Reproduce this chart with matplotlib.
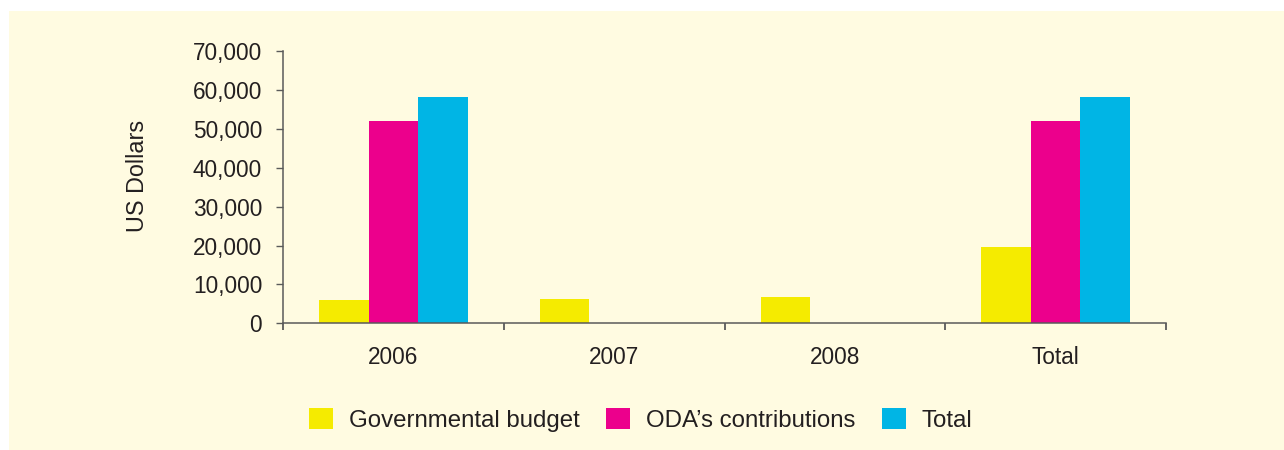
import matplotlib
matplotlib.use("Agg")
import matplotlib.pyplot as plt
from matplotlib.patches import Patch, Rectangle
from matplotlib.ticker import StrMethodFormatter, FixedLocator
import numpy as np

categories = ["2006", "2007", "2008", "Total"]
governmental_budget = [6000, 6250, 6800, 19700]
oda_contributions = [52000, 0, 0, 52000]
total_funding = [58200, 0, 0, 58200]
series_labels = ["Governmental budget", "ODA\u2019s contributions", "Total"]
y_ticks = [0, 10000, 20000, 30000, 40000, 50000, 60000, 70000]

colors = ["#F5EB00", "#EC008C", "#00B5E5"]
panel_color = "#FFFBE1"
text_color = "#231F20"
axis_color = "#5A5A5A"

plt.rcParams["font.family"] = ["Liberation Sans", "DejaVu Sans"]

W, H = 1284, 450
fig = plt.figure(figsize=(W / 100, H / 100), dpi=100)
fig.patch.set_facecolor("white")
fig.patches.append(Rectangle((9 / W, 0), 1 - 9 / W, 1 - 11 / H,
                             transform=fig.transFigure, facecolor=panel_color,
                             edgecolor="none", zorder=-10))

left, right = 283 / W, 1166 / W
bottom, top = 1 - 323.3 / H, 1 - 51 / H
ax = fig.add_axes([left, bottom, right - left, top - bottom])
ax.set_facecolor("none")

x = np.arange(len(categories))
bw = 0.224
for i, (vals, c, lab) in enumerate(zip(
        [governmental_budget, oda_contributions, total_funding], colors, series_labels)):
    ax.bar(x + (i - 1) * bw, vals, width=bw, color=c, label=lab, linewidth=0)

ax.set_xlim(-0.5, len(categories) - 0.5)
ax.set_ylim(0, 70000)
ax.set_yticks(y_ticks)
ax.yaxis.set_major_formatter(StrMethodFormatter("{x:,.0f}"))

ax.xaxis.set_major_locator(FixedLocator(np.arange(-0.5, len(categories), 1.0)))
ax.set_xticklabels([])
ax.set_xticks(x, minor=True)
ax.set_xticklabels(categories, minor=True)

for s in ["top", "right"]:
    ax.spines[s].set_visible(False)
for s in ["left", "bottom"]:
    ax.spines[s].set_color(axis_color)
    ax.spines[s].set_linewidth(1.1)

ax.tick_params(axis="y", direction="out", length=5, width=1, color=axis_color,
               labelsize=16.3, labelcolor=text_color, pad=10)
ax.tick_params(axis="x", which="major", direction="out", length=5, width=1.3,
               color=axis_color)
ax.tick_params(axis="x", which="minor", length=0, labelsize=16.3,
               labelcolor=text_color, pad=16)

fig.text(138 / W, 1 - 175.5 / H, "US Dollars", rotation=90, ha="center",
         va="center", fontsize=16.8, color=text_color)

handles = [Patch(facecolor=c, edgecolor="none", label=l)
           for c, l in zip(colors, series_labels)]
leg = fig.legend(handles=handles, loc="center", ncol=3, frameon=False,
                 bbox_to_anchor=(641 / W, 1 - 420 / H), fontsize=17.3,
                 handlelength=0.98, handleheight=0.98, handletextpad=0.68,
                 columnspacing=1.1, borderpad=0)
for t in leg.get_texts():
    t.set_color(text_color)

fig.savefig("out.png", dpi=100, facecolor=fig.get_facecolor())
